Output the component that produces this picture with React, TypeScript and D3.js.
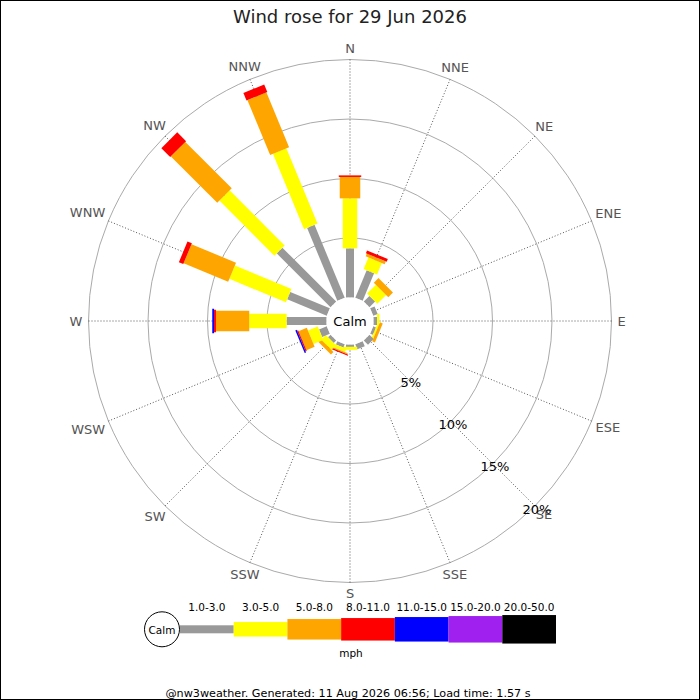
import React, { useEffect, useRef } from "react";
import * as d3 from "d3";

// compass points, clockwise from north
const directions = [
  "N", "NNE", "NE", "ENE", "E", "ESE", "SE", "SSE",
  "S", "SSW", "SW", "WSW", "W", "WNW", "NW", "NNW",
];

const speedBins = [
  "1.0-3.0", "3.0-5.0", "5.0-8.0", "8.0-11.0", "11.0-15.0", "15.0-20.0", "20.0-50.0",
];

// % of the day per direction, one array per speed bin (same order as directions)
const pct1to3 = [4.13, 2.5, 0.67, 0.4, 0.3, 0.25, 0.5, 0.45, 0.2, 0.3, 0.3, 0.7, 3.35, 3.6, 6.4, 6.63];
const pct3to5 = [4.2, 1.05, 1.05, 0, 0.2, 0.15, 0, 0, 0.25, 0.3, 0.55, 0.9, 3.14, 5.15, 6.54, 6.85];
const pct5to8 = [1.8, 0.25, 0.55, 0, 0, 0.25, 0, 0, 0, 0.1, 0.3, 0.75, 2.8, 4.05, 5.51, 4.99];
const pct8to11 = [0.13, 0.25, 0, 0, 0, 0, 0, 0, 0, 0.1, 0, 0.1, 0.16, 0.4, 1.05, 0.68];
const pct11to15 = [0, 0, 0, 0, 0, 0, 0, 0, 0, 0, 0, 0.12, 0.15, 0, 0, 0];
const pct15to20 = [0, 0, 0, 0, 0, 0, 0, 0, 0, 0, 0, 0, 0, 0, 0, 0];
const pct20to50 = [0, 0, 0, 0, 0, 0, 0, 0, 0, 0, 0, 0, 0, 0, 0, 0];

const ringTicks = [5, 10, 15, 20];

const titleText = "Wind rose for 29 Jun 2026";
const footerText = "@nw3weather. Generated: 11 Aug 2026 06:56; Load time: 1.57 s";
const unitText = "mph";
const calmText = "Calm";

const binColors = ["#999999", "#ffff00", "#ffa500", "#ff0000", "#0000ff", "#a020f0", "#000000"];
const binWidths = [8, 14.5, 20.5, 22.5, 24.5, 26.5, 28.5];

const FONT = "DejaVu Sans, Verdana, sans-serif";

const App: React.FC = () => {
  const svgRef = useRef<SVGSVGElement | null>(null);

  useEffect(() => {
    if (!svgRef.current) return;
    const W = 700;
    const H = 700;
    const cx = 350;
    const cy = 321;
    const calmR = 23.5;
    const outerR = 261.5;

    const series = [pct1to3, pct3to5, pct5to8, pct8to11, pct11to15, pct15to20, pct20to50];

    const rScale = d3.scaleLinear().domain([0, 20]).range([calmR, outerR]);
    const aScale = d3
      .scaleLinear()
      .domain([0, directions.length])
      .range([0, 360]);

    const rad = (deg: number) => (deg * Math.PI) / 180;
    const px = (deg: number, r: number) => r * Math.sin(rad(deg));
    const py = (deg: number, r: number) => -r * Math.cos(rad(deg));

    const root = d3.select(svgRef.current);
    root.selectAll("*").remove();
    root.attr("width", W).attr("height", H);

    root.append("rect").attr("width", W).attr("height", H).attr("fill", "#fff");

    /* title */
    root
      .append("text")
      .attr("x", W / 2)
      .attr("y", 23)
      .attr("text-anchor", "middle")
      .attr("font-family", FONT)
      .attr("font-size", 18)
      .attr("fill", "#222")
      .text(titleText);

    const g = root.append("g").attr("transform", `translate(${cx},${cy})`);

    /* grid rings */
    g.selectAll(".ring")
      .data(ringTicks)
      .enter()
      .append("circle")
      .attr("r", (d) => rScale(d))
      .attr("fill", "none")
      .attr("stroke", "#aaaaaa")
      .attr("stroke-width", 1);

    /* radial dotted axes */
    g.selectAll(".spoke")
      .data(directions)
      .enter()
      .append("line")
      .attr("x1", (_, i) => px(aScale(i), calmR))
      .attr("y1", (_, i) => py(aScale(i), calmR))
      .attr("x2", (_, i) => px(aScale(i), outerR))
      .attr("y2", (_, i) => py(aScale(i), outerR))
      .attr("stroke", "#555")
      .attr("stroke-width", 1)
      .attr("stroke-dasharray", "1,2");

    /* compass labels, pushed outside the ring by their own size */
    directions.forEach((d, i) => {
      const a = aScale(i);
      const t = g
        .append("text")
        .attr("text-anchor", "middle")
        .attr("dominant-baseline", "central")
        .attr("font-family", FONT)
        .attr("font-size", 13)
        .attr("fill", "#555")
        .text(d);
      const bw = (t.node() as SVGTextElement).getBBox().width;
      const ex = (bw / 2) * Math.sin(rad(a));
      const ey = 5 * Math.cos(rad(a));
      const r = outerR + 6 + Math.sqrt(ex * ex + ey * ey);
      t.attr("x", px(a, r)).attr("y", py(a, r));
    });

    /* bars */
    directions.forEach((_, i) => {
      const a = aScale(i);
      const bar = g.append("g").attr("transform", `rotate(${a})`);
      let cum = 0;
      series.forEach((vals, b) => {
        const v = vals[i];
        if (v <= 0) return;
        const r0 = rScale(cum);
        const r1 = rScale(cum + v);
        cum += v;
        bar
          .append("rect")
          .attr("x", -binWidths[b] / 2)
          .attr("y", -r1)
          .attr("width", binWidths[b])
          .attr("height", r1 - r0)
          .attr("fill", binColors[b]);
      });
    });

    /* calm disc */
    g.append("circle").attr("r", calmR).attr("fill", "#fff");
    g.append("text")
      .attr("text-anchor", "middle")
      .attr("dominant-baseline", "central")
      .attr("font-family", FONT)
      .attr("font-size", 13)
      .attr("fill", "#000")
      .text(calmText);

    /* ring percentage labels along SE */
    g.selectAll(".tick")
      .data(ringTicks)
      .enter()
      .append("text")
      .attr("x", (d) => px(135, rScale(d) + 3))
      .attr("y", (d) => py(135, rScale(d) + 3) + 1)
      .attr("text-anchor", "middle")
      .attr("dominant-baseline", "central")
      .attr("font-family", FONT)
      .attr("font-size", 13)
      .attr("fill", "#000")
      .text((d) => `${d}%`);

    /* legend */
    const legY = 629.3;
    const lx = d3
      .scaleBand<string>()
      .domain(speedBins)
      .range([180, 556])
      .padding(0);
    const leg = root.append("g");
    leg
      .append("circle")
      .attr("cx", 162)
      .attr("cy", legY)
      .attr("r", 17.5)
      .attr("fill", "#fff")
      .attr("stroke", "#000")
      .attr("stroke-width", 1);
    leg
      .append("text")
      .attr("x", 162)
      .attr("y", legY + 0.5)
      .attr("text-anchor", "middle")
      .attr("dominant-baseline", "central")
      .attr("font-family", FONT)
      .attr("font-size", 10.5)
      .text(calmText);
    speedBins.forEach((s, b) => {
      leg
        .append("rect")
        .attr("x", lx(s)!)
        .attr("y", legY - binWidths[b] / 2)
        .attr("width", lx.bandwidth())
        .attr("height", binWidths[b])
        .attr("fill", binColors[b]);
      leg
        .append("text")
        .attr("x", lx(s)! + lx.bandwidth() / 2)
        .attr("y", 611)
        .attr("text-anchor", "middle")
        .attr("font-family", FONT)
        .attr("font-size", 10.5)
        .attr("fill", "#000")
        .text(s);
    });
    leg
      .append("text")
      .attr("x", 351)
      .attr("y", 657)
      .attr("text-anchor", "middle")
      .attr("font-family", FONT)
      .attr("font-size", 10.5)
      .text(unitText);

    /* footer */
    root
      .append("text")
      .attr("x", 348)
      .attr("y", 696.5)
      .attr("text-anchor", "middle")
      .attr("font-family", FONT)
      .attr("font-size", 11.2)
      .attr("fill", "#000")
      .text(footerText);

    /* frame */
    root
      .append("rect")
      .attr("x", 0.5)
      .attr("y", 0.5)
      .attr("width", W - 1)
      .attr("height", H - 1)
      .attr("fill", "none")
      .attr("stroke", "#000")
      .attr("stroke-width", 1);
  }, []);

  return (
    <svg
      ref={svgRef}
      style={{ position: "absolute", left: 0, top: 0, display: "block" }}
    />
  );
};

export default App;
